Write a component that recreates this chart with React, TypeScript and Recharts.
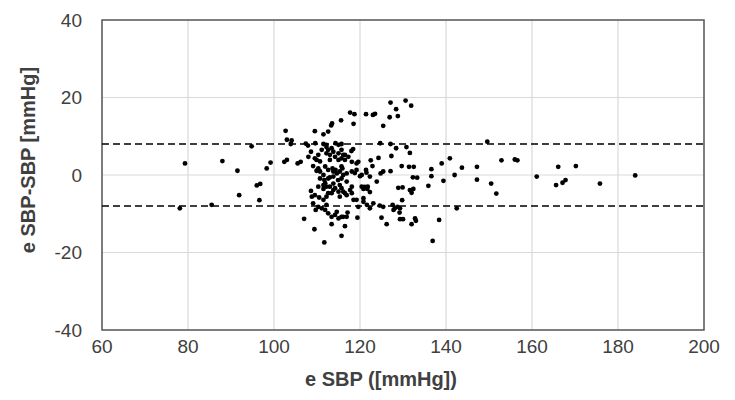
import { ScatterChart, Scatter, XAxis, YAxis, CartesianGrid, ReferenceLine, ReferenceArea } from "recharts";

const xTicks = [60, 80, 100, 120, 140, 160, 180, 200];
const yTicks = [-40, -20, 0, 20, 40];
const upperLoa = 8;
const lowerLoa = -8;

// [e SBP, e SBP - SBP], grouped by area
const lowSbp = [
  [78.1, -8.6], [79.3, 3.0], [85.5, -7.7], [88.0, 3.6], [91.5, 1.1], [91.9, -5.2], [94.8, 7.4],
  [96.0, -2.7], [96.8, -2.3], [96.6, -6.5], [98.3, 1.7], [99.2, 3.2], [102.4, 3.4], [103.0, 3.9],
  [102.7, 11.4], [103.0, 9.1], [104.1, 8.9], [103.9, 8.0], [105.5, 3.0], [106.2, 3.4], [107.0, -11.3],
];

const highDiff = [
  [109.5, 11.3], [111.5, 10.5], [112.6, 11.2], [113.3, 12.8], [113.5, 13.3], [115.6, 14.1], [117.7, 16.1],
  [118.7, 15.7], [118.5, 13.2], [121.4, 15.7], [123.0, 15.5], [123.5, 15.8], [125.4, 12.7], [127.1, 18.7],
  [128.4, 17.0], [130.6, 19.2], [131.9, 17.9], [126.9, 14.9], [128.8, 15.2],
  [107.4, 8.1], [107.9, 7.6], [109.6, 8.2], [111.5, 8.0], [114.3, 8.2], [115.0, 7.8], [115.7, 8.0],
  [112.2, 7.8], [124.7, 8.2], [127.1, 8.0], [128.4, 6.9], [130.8, 7.2], [131.6, 5.7], [127.3, 4.9],
  [124.3, 4.4], [122.5, 3.8], [122.9, 2.3], [118.4, 6.7], [118.0, 6.2], [116.1, 5.2], [116.5, 3.9],
  [118.1, 3.4], [119.6, 3.4], [115.7, 2.2],
  [112.2, 7.2], [112.6, 6.5], [113.4, 6.9], [112.2, 5.6], [113.0, 5.2], [113.8, 6.0], [114.2, 4.7],
  [115.0, 5.6], [115.7, 6.5], [115.0, 3.9], [113.0, 3.9], [115.7, 4.3], [116.5, 5.2], [117.3, 4.7],
  [119.2, 3.0], [111.1, 6.5], [110.3, 5.2], [109.5, 4.3], [110.7, 3.5], [111.9, 2.2], [108.6, 6.0],
  [108.0, 4.7], [109.9, 3.9], [110.3, 1.7], [109.9, 1.1], [109.1, 2.3],
];

const midDiff = [
  [112.6, 1.3], [113.6, 1.7], [114.3, 1.3], [115.3, 0.9], [115.9, 1.7], [110.7, -0.9], [111.7, -1.3],
  [112.6, -0.9], [113.8, -0.4], [114.9, -1.3], [115.7, -0.9], [110.3, -3.0], [111.5, -2.6], [113.0, -3.0],
  [114.2, -3.4], [115.3, -2.6], [110.7, 0.9], [111.5, 0.0], [113.8, 0.9], [114.6, 0.4], [116.9, 0.4],
  [118.1, 0.9], [119.2, 1.3], [111.9, -2.1], [113.0, -0.6], [113.8, -2.2], [116.9, -1.7], [118.1, -3.0],
  [116.1, 0.0], [118.8, 0.5], [122.3, -0.4], [123.9, -1.7], [121.4, 1.3], [121.5, 0.6], [120.0, -0.3],
  [120.4, 0.0], [124.8, 0.4], [125.4, 0.9], [127.1, 1.0], [129.7, 2.3], [131.4, 2.1], [132.5, 2.1],
  [132.3, -0.6], [133.3, -0.7], [120.4, -3.0], [121.1, -3.1], [121.8, -3.0], [120.8, -3.6],
  [121.7, -3.6], [122.3, -4.4], [128.9, -3.3], [129.9, -3.2], [131.6, -3.9], [132.4, -3.6], [132.0, -4.6],
  [135.9, -2.8], [136.6, 1.5], [136.6, -0.3], [139.0, 3.0], [140.9, 4.3], [139.4, -1.5], [142.0, 0.0],
];

const lowDiff = [
  [108.6, -4.1], [109.5, -5.2], [110.5, -5.8], [108.8, -5.6], [111.5, -3.6], [112.6, -4.7], [112.2, -3.0],
  [113.8, -3.9], [115.0, -4.3], [115.7, -3.4], [109.1, -7.3], [110.3, -8.2], [109.7, -9.0], [111.1, -8.6],
  [112.2, -7.7], [111.9, -9.0], [112.6, -9.9], [113.4, -10.8], [114.2, -10.3], [114.6, -9.5],
  [115.0, -11.2], [115.7, -10.8], [109.4, -14.0], [113.4, -12.7], [115.7, -15.7], [111.7, -17.4],
  [111.5, -6.4], [112.2, -5.6], [113.4, -4.7], [115.3, -5.6], [116.5, -4.7], [117.7, -3.9], [119.2, -6.4],
  [116.5, -13.2], [119.4, -11.0], [117.1, -9.7], [116.1, -4.3], [118.1, -4.7], [116.9, -5.2],
  [118.5, -6.4], [119.6, -8.2], [120.8, -6.9], [121.6, -7.7], [122.3, -8.6], [123.1, -7.3], [124.6, -7.9],
  [125.4, -8.2], [116.1, -10.8], [116.9, -10.8], [125.0, -11.0], [126.2, -12.7], [120.8, -6.0],
  [127.6, -7.7], [128.1, -8.6], [128.7, -8.2], [127.8, -9.0], [129.8, -6.5], [129.2, -9.7], [129.3, -8.6],
  [129.3, -11.4], [130.0, -11.4], [132.0, -12.7], [132.8, -11.2], [133.0, -11.8], [138.4, -11.6],
  [136.9, -17.0], [142.5, -8.6],
];

const highSbp = [
  [143.7, 1.9], [147.2, 2.1], [147.2, -1.2], [149.6, 8.6], [150.5, -2.2], [151.7, -4.8], [152.9, 3.8],
  [156.0, 4.0], [156.6, 3.8], [161.1, -0.4], [165.6, -2.6], [166.1, 2.1], [167.1, -2.0], [167.8, -1.3],
  [170.2, 2.3], [175.8, -2.2], [184.0, -0.1],
];

const points = [...lowSbp, ...highDiff, ...midDiff, ...lowDiff, ...highSbp].map(([sbp, diff]) => ({ sbp, diff }));

const font = "'Liberation Sans', Arial, sans-serif";
const tickStyle = { fontSize: 19, fill: "#404040", fontFamily: font };

const Dot = (props: any) => <circle cx={props.cx} cy={props.cy} r={2.4} fill="#000" />;

export default function App() {
  return (
    <div style={{ position: "absolute", left: 0, top: 0, width: 735, height: 400, background: "#fff" }}>
      <ScatterChart width={735} height={400} margin={{ top: 20, right: 31, bottom: 0, left: 0 }}>
        <CartesianGrid stroke="#d9d9d9" strokeWidth={1.2} />
        <XAxis
          type="number"
          dataKey="sbp"
          domain={[60, 200]}
          ticks={xTicks}
          height={70}
          tickLine={false}
          axisLine={false}
          tickSize={0}
          tickMargin={10}
          tick={tickStyle}
          label={(props: any) => (
            <text x={381} y={386} textAnchor="middle" fontSize={20} fontWeight="bold" fill="#404040" fontFamily={font}>
              e SBP ([mmHg])
            </text>
          )}
        />
        <YAxis
          type="number"
          dataKey="diff"
          domain={[-40, 40]}
          ticks={yTicks}
          width={102}
          tickLine={false}
          axisLine={false}
          tickSize={0}
          tickMargin={20}
          tick={tickStyle}
          label={(props: any) => (
            <text
              x={28}
              y={160}
              transform="rotate(-90 28 160)"
              textAnchor="middle"
              dominantBaseline="central"
              fontSize={20}
              fontWeight="bold"
              fill="#404040"
              fontFamily={font}
            >
              e SBP-SBP [mmHg]
            </text>
          )}
        />
        <ReferenceArea x1={60} x2={200} y1={-40} y2={40} fill="none" stroke="#595959" strokeWidth={1.5} />
        <ReferenceLine y={upperLoa} stroke="#000" strokeWidth={1.5} strokeDasharray="7 4" />
        <ReferenceLine y={lowerLoa} stroke="#000" strokeWidth={1.5} strokeDasharray="7 4" />
        <Scatter data={points} shape={Dot} isAnimationActive={false} />
      </ScatterChart>
    </div>
  );
}
